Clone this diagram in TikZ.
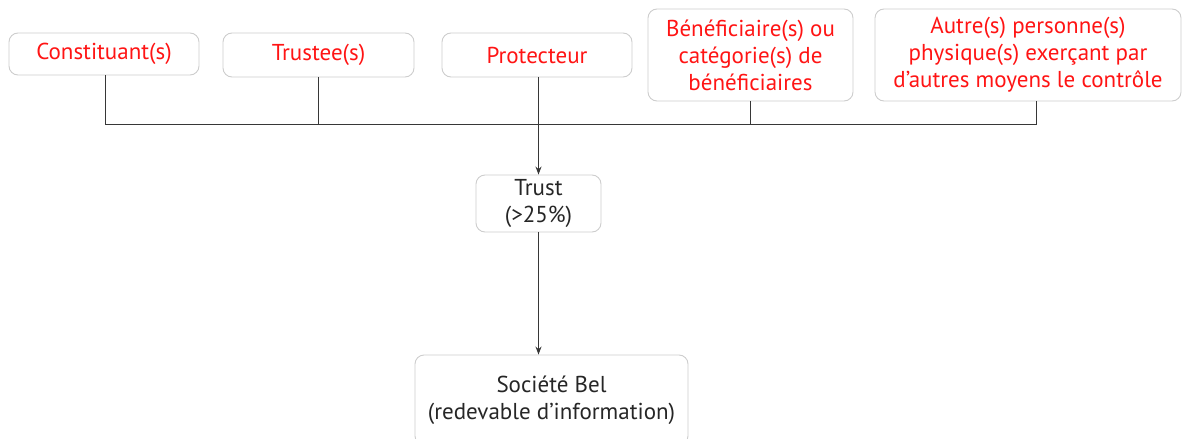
\documentclass[tikz,border=0pt]{standalone}
\usepackage{fontspec}
\setmainfont{PT Sans}
\usetikzlibrary{arrows.meta}
\definecolor{boxgray}{RGB}{205,205,205}
\definecolor{linegray}{RGB}{55,55,55}
\definecolor{txtred}{RGB}{255,20,20}
\tikzset{
  box/.style={draw=boxgray, line width=0.9pt, rounded corners=9pt, align=center,
    inner sep=0pt, font=\fontsize{23}{27}\selectfont},
  redbox/.style={box, text=txtred},
  blackbox/.style={box, text=black!85},
  conn/.style={draw=linegray, line width=1pt},
  arr/.style={conn, -{Stealth[length=8pt,width=6pt]}}
}
\begin{document}
\begin{tikzpicture}[x=1pt,y=-1pt]
\useasboundingbox (0,0) rectangle (1184,439);
\node[redbox, minimum width=190, minimum height=42] (c) at (104,54) {Constituant(s)};
\node[redbox, minimum width=191, minimum height=44] (t) at (318.5,55) {Trustee(s)};
\node[redbox, minimum width=190, minimum height=44] (p) at (537,55) {Protecteur};
\node[redbox, minimum width=205, minimum height=92] (b) at (750.5,55) {Bénéficiaire(s) ou\\catégorie(s) de\\bénéficiaires};
\node[redbox, minimum width=306, minimum height=92] (a) at (1028,55) {Autre(s) personne(s)\\physique(s) exerçant par\\d’autres moyens le contrôle};
\node[blackbox, minimum width=125, minimum height=57] (tr) at (538.5,203.5) {Trust\\(>25\%)};
\node[blackbox, minimum width=273, minimum height=90] (s) at (551.5,400) {Société Bel\\(redevable d’information)};
\coordinate (hl) at (105,124);
\coordinate (hr) at (1036,124);
\draw[conn] (c.south -| hl) -- (hl) -- (hr) -- (a.south -| hr);
\draw[conn] (t.south) -- (t.south |- hl);
\draw[conn] (b.south) -- (b.south |- hl);
\draw[arr] (p.south -| tr.north) -- (tr.north);
\draw[arr] (tr.south) -- (tr.south |- s.north);
\end{tikzpicture}
\end{document}
